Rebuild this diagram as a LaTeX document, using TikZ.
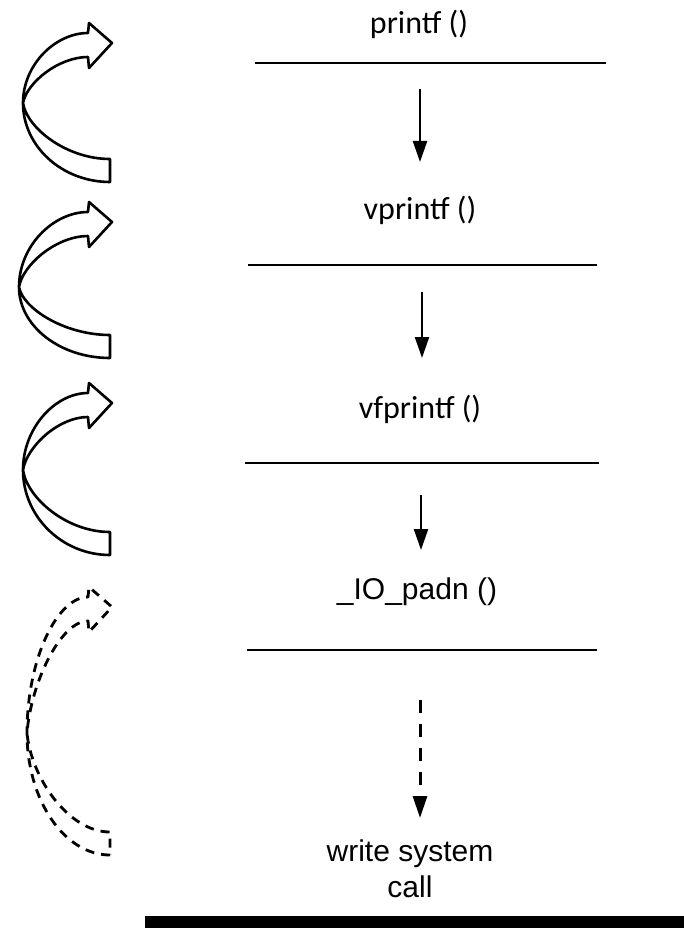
\documentclass[tikz,border=0pt]{standalone}
\usepackage{fontspec}
\newfontfamily\calfont{Carlito}
\newfontfamily\arialfont{Liberation Sans}
\usetikzlibrary{arrows.meta}

% Curved "call" ribbon arrow: #1 style, #2 tip y, #3 bottom y, #4 left x, #5 y of left point
\newcommand\ribbonarrow[5]{%
  \draw[#1] (110,#3)
    .. controls ({110-0.55*(110-#4)},{#3}) and (#4,{#5+0.55*(#3-#5)}) .. (#4,#5)
    .. controls (#4,{#5-0.55*(#5-#2+10)}) and ({88-0.5*(88-#4)},{#2-10}) .. (88,{#2-10})
    -- (89,{#2-20}) -- (112,#2) -- (89,{#2+25}) -- (88,{#2+14})
    .. controls ({88-0.45*(88-#4)},{#2+14}) and ({#4+4},{#5-0.45*(#5-#2-14)}) .. (#4,#5)
    .. controls ({#4+4},{#5+0.45*(#3-23-#5)}) and ({110-0.5*(110-#4)},{#3-23}) .. (110,{#3-23})
    -- cycle;}

\tikzset{
  fnlabel/.style={anchor=base, inner sep=0pt, font=\calfont\fontsize{32}{36}\selectfont},
  fnlabelb/.style={anchor=base, inner sep=0pt, font=\arialfont\fontsize{30}{36}\selectfont},
  level/.style={line width=2.4pt},
  callarrow/.style={line width=2.2pt, -{Triangle[width=14pt,length=21pt]}},
  weakarrow/.style={line width=3pt, dash pattern=on 13pt off 11pt,
    -{Triangle[width=14pt,length=22pt]}},
  ribbon/.style={line width=2.6pt, line join=round, fill=white},
  dribbon/.style={line width=2.8pt, line join=round, dash pattern=on 9pt off 7pt},
}

\begin{document}
\begin{tikzpicture}[x=1pt, y=-1pt]
  \useasboundingbox (0,0) rectangle (684,928);

  % function names
  \node[fnlabel]  (printf)   at (419,34)  {printf ()};
  \node[fnlabel]  (vprintf)  at (420,219) {vprintf ()};
  \node[fnlabel]  (vfprintf) at (420,418) {vfprintf ()};
  \node[fnlabelb] (padn)     at (417,599) {\_IO\_padn ()};
  \node[fnlabelb, align=center, anchor=base] (write) at (410,897)
    {write system\\[-0.9pt]call};

  % separating levels
  \draw[level] (255,63)  -- (606,63);
  \draw[level] (248,265) -- (597,265);
  \draw[level] (245,463) -- (599,463);
  \draw[level] (247,650) -- (597,650);

  % call arrows between levels
  \coordinate (a1s) at (420,89);  \coordinate (a1e) at (420,162);
  \coordinate (a2s) at (422,292); \coordinate (a2e) at (422,358);
  \coordinate (a3s) at (421,495); \coordinate (a3e) at (421,550);
  \coordinate (a4s) at (420,700); \coordinate (a4e) at (420,818);
  \draw[callarrow] (a1s) -- (a1e);
  \draw[callarrow] (a2s) -- (a2e);
  \draw[callarrow] (a3s) -- (a3e);
  \draw[weakarrow] (a4s) -- (a4e);

  % curved ribbon arrows on the left
  \ribbonarrow{ribbon}{43}{182}{23}{103}
  \ribbonarrow{ribbon}{222}{358}{19}{287}
  \ribbonarrow{ribbon}{403}{555}{23}{470}
  \ribbonarrow{dribbon}{607}{855}{27}{733}

  % kernel boundary bar
  \fill (145,916) rectangle (684,928);
\end{tikzpicture}
\end{document}
